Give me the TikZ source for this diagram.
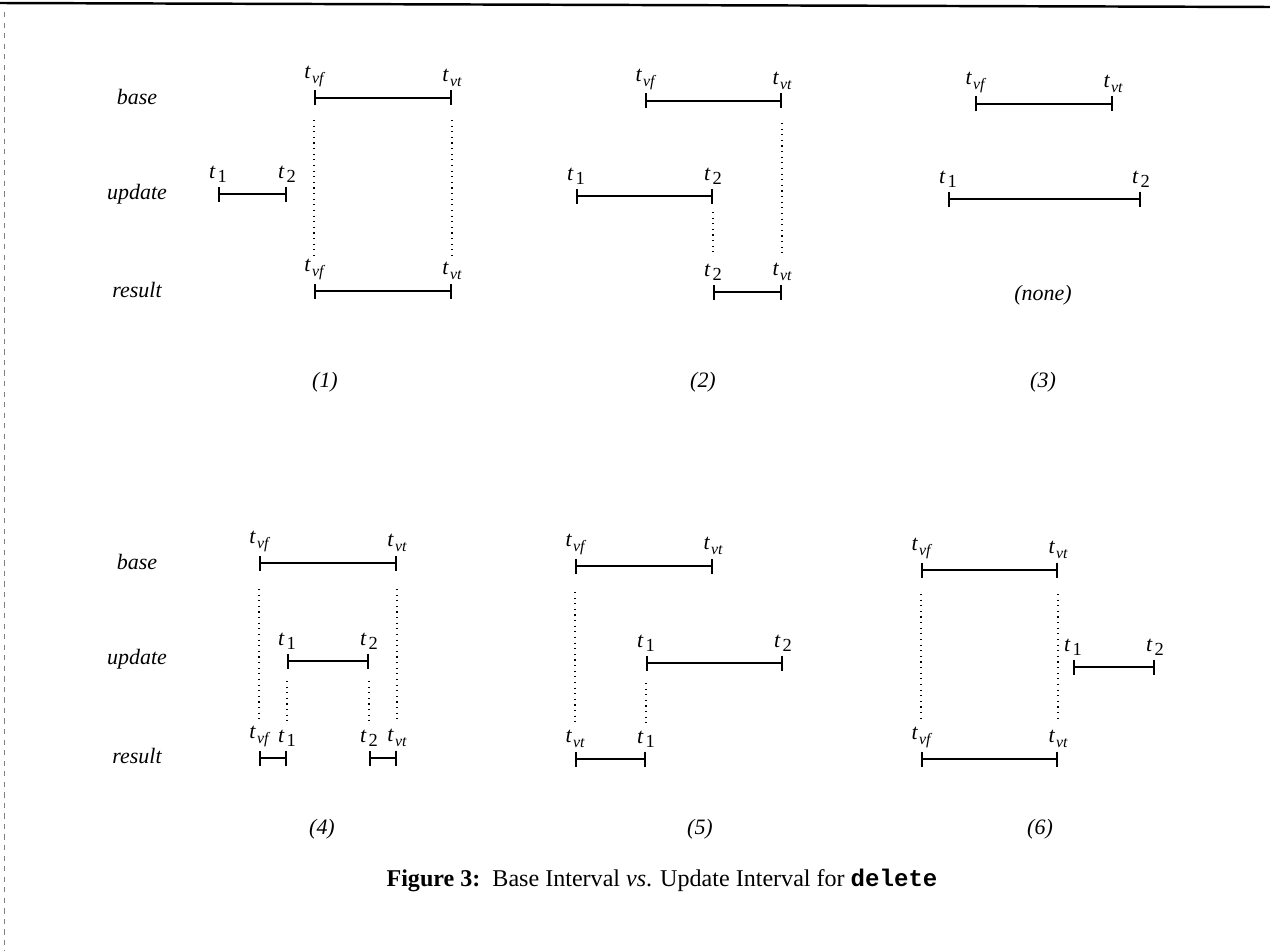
\documentclass[tikz,border=0pt]{standalone}
\usepackage{fontspec}
\setmainfont{Liberation Serif}
\setmonofont{Liberation Mono}
\usepackage{tikz}
\usetikzlibrary{arrows.meta, positioning, calc}

\newcommand{\tl}[1]{\textit{t}\kern0.6pt\raisebox{-0.45ex}{\fontsize{9}{10}\selectfont\itshape #1}}
\newcommand{\tn}[1]{\textit{t}\kern1.2pt\raisebox{-0.45ex}{\fontsize{10.5}{11}\selectfont #1}}

\begin{document}
\begin{tikzpicture}[
  x=0.2mm, y=-0.2mm,
  font=\fontsize{12.5}{15}\selectfont,
  ival/.style={{Bar[width=3mm,line width=1pt]}-{Bar[width=3mm,line width=1pt]}, line width=1.1pt},
  guide/.style={dash pattern=on 0.6pt off 2.6pt, line width=0.6pt},
  tlab/.style={inner sep=0pt, anchor=south},
  rowlab/.style={font=\fontsize{12.5}{15}\selectfont\itshape},
  caselab/.style={font=\fontsize{12.5}{15}\selectfont\itshape},
]
\useasboundingbox (0,0) rectangle (1270,951);

% ── page edges from the scan ───────────────────────────────────────
\coordinate (topL) at (0,3);
\coordinate (topR) at (1270,7);
\draw[line width=1.4pt] (topL) -- (topR);
\coordinate (edgeT) at (4,12);
\coordinate (edgeB) at (4,951);
\draw[gray, dashed, line width=0.3pt] (edgeT) -- (edgeB);

% ── row labels ─────────────────────────────────────────────────────
\def\rowLx{137}
\node[rowlab] (baseA)   at (\rowLx,97)  {base};
\node[rowlab] (updA)    at (\rowLx,194) {update};
\node[rowlab] (resA)    at (\rowLx,290) {result};
\node[rowlab] (baseB)   at (\rowLx,562) {base};
\node[rowlab] (updB)    at (\rowLx,659) {update};
\node[rowlab] (resB)    at (\rowLx,756) {result};

% ── case (1) ───────────────────────────────────────────────────────
\coordinate (b1s) at (314,98);  \coordinate (b1e) at (452,98);
\coordinate (u1s) at (218,194); \coordinate (u1e) at (287,194);
\coordinate (r1s) at (314,291); \coordinate (r1e) at (452,291);
\draw[ival] (b1s) -- (b1e);
\draw[ival] (u1s) -- (u1e);
\draw[ival] (r1s) -- (r1e);
\node[tlab, above=2.2mm of b1s] {\tl{vf}};
\node[tlab, above=2.2mm of b1e] {\tl{vt}};
\node[tlab, above=2.2mm of u1s] {\tn{1}};
\node[tlab, above=2.2mm of u1e] {\tn{2}};
\node[tlab, above=2.2mm of r1s] {\tl{vf}};
\node[tlab, above=2.2mm of r1e] {\tl{vt}};
\draw[guide] ($(b1s)+(0,22)$) -- ($(r1s)+(0,-36)$);
\draw[guide] ($(b1e)+(0,22)$) -- ($(r1e)+(0,-36)$);
\node[caselab] (c1) at (325,382) {(1)};

% ── case (2) ───────────────────────────────────────────────────────
\coordinate (b2s) at (645,101); \coordinate (b2e) at (782,101);
\coordinate (u2s) at (576,196); \coordinate (u2e) at (713,196);
\coordinate (r2s) at (713,292); \coordinate (r2e) at (782,292);
\draw[ival] (b2s) -- (b2e);
\draw[ival] (u2s) -- (u2e);
\draw[ival] (r2s) -- (r2e);
\node[tlab, above=2.2mm of b2s] {\tl{vf}};
\node[tlab, above=2.2mm of b2e] {\tl{vt}};
\node[tlab, above=2.2mm of u2s] {\tn{1}};
\node[tlab, above=2.2mm of u2e] {\tn{2}};
\node[tlab, above=2.2mm of r2s] {\tn{2}};
\node[tlab, above=2.2mm of r2e] {\tl{vt}};
\draw[guide] ($(b2e)+(0,22)$) -- ($(r2e)+(0,-36)$);
\draw[guide] ($(u2e)+(0,16)$) -- ($(r2s)+(0,-36)$);
\node[caselab] (c2) at (703,382) {(2)};

% ── case (3) ───────────────────────────────────────────────────────
\coordinate (b3s) at (975,104); \coordinate (b3e) at (1113,104);
\coordinate (u3s) at (948,199); \coordinate (u3e) at (1141,199);
\draw[ival] (b3s) -- (b3e);
\draw[ival] (u3s) -- (u3e);
\node[tlab, above=2.2mm of b3s] {\tl{vf}};
\node[tlab, above=2.2mm of b3e] {\tl{vt}};
\node[tlab, above=2.2mm of u3s] {\tn{1}};
\node[tlab, above=2.2mm of u3e] {\tn{2}};
\node[caselab] (none3) at (1043,295) {(none)};
\node[caselab] (c3) at (1043,382) {(3)};

% ── case (4) ───────────────────────────────────────────────────────
\coordinate (b4s) at (259,563); \coordinate (b4e) at (397,563);
\coordinate (u4s) at (287,661); \coordinate (u4e) at (369,661);
\coordinate (r4a) at (259,758); \coordinate (r4b) at (287,758);
\coordinate (r4c) at (369,758); \coordinate (r4d) at (397,758);
\draw[ival] (b4s) -- (b4e);
\draw[ival] (u4s) -- (u4e);
\draw[ival] (r4a) -- (r4b);
\draw[ival] (r4c) -- (r4d);
\node[tlab, above=2.2mm of b4s] {\tl{vf}};
\node[tlab, above=2.2mm of b4e] {\tl{vt}};
\node[tlab, above=2.2mm of u4s] {\tn{1}};
\node[tlab, above=2.2mm of u4e] {\tn{2}};
\node[tlab, above=2.2mm of r4a] {\tl{vf}};
\node[tlab, above=2.2mm of r4b] {\tn{1}};
\node[tlab, above=2.2mm of r4c] {\tn{2}};
\node[tlab, above=2.2mm of r4d] {\tl{vt}};
\draw[guide] ($(b4s)+(0,26)$) -- ($(r4a)+(0,-36)$);
\draw[guide] ($(b4e)+(0,26)$) -- ($(r4d)+(0,-36)$);
\draw[guide] ($(u4s)+(0,20)$) -- ($(r4b)+(0,-36)$);
\draw[guide] ($(u4e)+(0,20)$) -- ($(r4c)+(0,-36)$);
\node[caselab] (c4) at (322,829) {(4)};

% ── case (5) ───────────────────────────────────────────────────────
\coordinate (b5s) at (575,566); \coordinate (b5e) at (713,566);
\coordinate (u5s) at (646,663); \coordinate (u5e) at (783,663);
\coordinate (r5s) at (575,759); \coordinate (r5e) at (646,759);
\draw[ival] (b5s) -- (b5e);
\draw[ival] (u5s) -- (u5e);
\draw[ival] (r5s) -- (r5e);
\node[tlab, above=2.2mm of b5s] {\tl{vf}};
\node[tlab, above=2.2mm of b5e] {\tl{vt}};
\node[tlab, above=2.2mm of u5s] {\tn{1}};
\node[tlab, above=2.2mm of u5e] {\tn{2}};
\node[tlab, above=2.2mm of r5s] {\tl{vt}};
\node[tlab, above=2.2mm of r5e] {\tn{1}};
\draw[guide] ($(b5s)+(0,26)$) -- ($(r5s)+(0,-36)$);
\draw[guide] ($(u5s)+(0,20)$) -- ($(r5e)+(0,-36)$);
\node[caselab] (c5) at (700,829) {(5)};

% ── case (6) ───────────────────────────────────────────────────────
\coordinate (b6s) at (921,570);  \coordinate (b6e) at (1058,570);
\coordinate (u6s) at (1073,667); \coordinate (u6e) at (1155,667);
\coordinate (r6s) at (921,759);  \coordinate (r6e) at (1058,759);
\draw[ival] (b6s) -- (b6e);
\draw[ival] (u6s) -- (u6e);
\draw[ival] (r6s) -- (r6e);
\node[tlab, above=2.2mm of b6s] {\tl{vf}};
\node[tlab, above=2.2mm of b6e] {\tl{vt}};
\node[tlab, above=2.2mm of u6s] {\tn{1}};
\node[tlab, above=2.2mm of u6e] {\tn{2}};
\node[tlab, above=2.2mm of r6s] {\tl{vf}};
\node[tlab, above=2.2mm of r6e] {\tl{vt}};
\draw[guide] ($(b6s)+(0,24)$) -- ($(r6s)+(0,-36)$);
\draw[guide] ($(b6e)+(0,24)$) -- ($(r6e)+(0,-36)$);
\node[caselab] (c6) at (1040,829) {(6)};

% ── caption ────────────────────────────────────────────────────────
\node[font=\fontsize{13.7}{16}\selectfont] (caption) at (662,880)
  {\textbf{Figure 3:}\ \ Base Interval \textit{vs}. Update Interval for \texttt{\bfseries delete}};

\end{tikzpicture}
\end{document}
